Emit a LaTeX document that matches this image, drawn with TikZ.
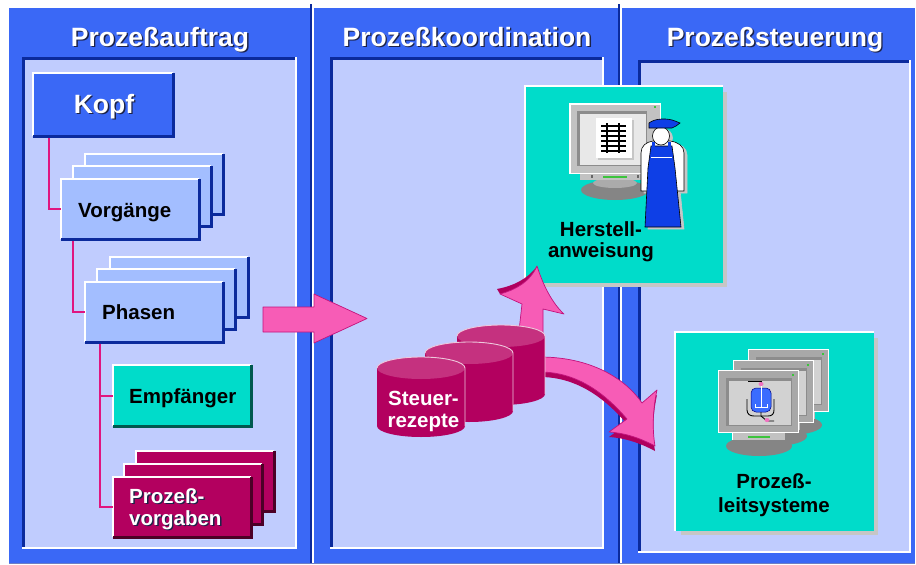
\documentclass[tikz,border=0pt]{standalone}
\usepackage{fontspec}
\setmainfont{Liberation Sans}
\usetikzlibrary{calc}

\definecolor{panelblue}{HTML}{3A68F6}
\definecolor{panellight}{HTML}{C0CCFE}
\definecolor{navy}{HTML}{0B2A9C}
\definecolor{boxblue}{HTML}{A3BEFF}
\definecolor{turq}{HTML}{00DCCA}
\definecolor{turqdark}{HTML}{00594F}
\definecolor{crimson}{HTML}{B3005F}
\definecolor{crimsondark}{HTML}{4C0026}
\definecolor{arrowpink}{HTML}{F75CB6}
\definecolor{arrowedge}{HTML}{C2127C}
\definecolor{arrowshade}{HTML}{B0005E}
\definecolor{linkpink}{HTML}{E0157F}
\definecolor{cyltop}{HTML}{C5317F}
\definecolor{cylrim}{HTML}{EEC8DC}
\definecolor{dropgray}{HTML}{C6C6C6}
\definecolor{textshade}{HTML}{1C2248}
\definecolor{bezel}{HTML}{C2C2C2}
\definecolor{bezeldark}{HTML}{A8A8A8}
\definecolor{screenframe}{HTML}{8C8C8C}
\definecolor{screenface}{HTML}{E8E8E8}
\definecolor{screenface2}{HTML}{D2D2D2}
\definecolor{standgray}{HTML}{858585}
\definecolor{standlight}{HTML}{ABABAB}
\definecolor{ledgreen}{HTML}{3CC43C}
\definecolor{overall}{HTML}{0E3FE6}
\definecolor{vessel}{HTML}{3A6CFF}
\definecolor{valvepink}{HTML}{F070C0}

% white text with a dark drop shadow
\newcommand\shtext[1]{\leavevmode\rlap{\kern1.4pt\raisebox{-1.4pt}{\textcolor{textshade}{#1}}}#1}
% raised box edge: light top/left, dark bottom/right
\newcommand\bevel[2]{%
  \draw[white,line width=2pt] (#1.south west) |- (#1.north east);
  \draw[#2,line width=3pt] (#1.south west) -| (#1.north east);}
% sunken panel: dark top/left, light bottom/right
\newcommand\insetpanel[4]{%
  \fill[panellight] (#1,#2) rectangle (#3,#4);
  \draw[white,line width=2pt] (#1,#4-1) -- (#3-1,#4-1) -- (#3-1,#2);
  \draw[navy,line width=3pt] (#1+1.5,#4-2) -- (#1+1.5,#2+1.5) -- (#3-2,#2+1.5);}
% database drum: centre x, top y
\newcommand\drum[2]{%
  \fill[crimson] (#1-44,#2+11) rectangle (#1+44,#2+69);
  \fill[crimson] (#1,#2+69) ellipse [x radius=44, y radius=11];
  \fill[cyltop] (#1,#2+11) ellipse [x radius=44, y radius=11];
  \draw[cylrim,line width=0.9pt] (#1-44,#2+11) arc [start angle=180, end angle=360, x radius=44, y radius=11] -- (#1+44,#2+69);}
% control-system monitor: top-left corner of the bezel
\newcommand\plsmonitor[2]{%
  \fill[standgray] (#1+41,#2+76) ellipse [x radius=33, y radius=10];
  \fill[bezel] (#1+14,#2+62) rectangle (#1+67,#2+70);
  \draw[white,line width=0.8pt] (#1+14,#2+70) |- (#1+67,#2+62);
  \draw[ledgreen,line width=1.3pt] (#1+30,#2+67) -- (#1+52,#2+67);
  \fill[white] (#1,#2) rectangle (#1+81,#2+63);
  \fill[bezeldark] (#1+1,#2+1) rectangle (#1+80,#2+62);
  \fill[screenframe] (#1+8,#2+8) rectangle (#1+74,#2+56);
  \fill[screenface2] (#1+11,#2+11) rectangle (#1+73,#2+55);
  \fill[ledgreen] (#1+74,#2+4) rectangle (#1+76,#2+6);}
% worker figure
\newcommand\workershape[3]{%
  \filldraw[fill=#1, draw=#3, line width=0.6pt] (641,191) -- (641,153) .. controls (641,146) and (646,142) .. (653,141) -- (670,141) .. controls (678,142) and (684,146) .. (684,153) -- (684,191) -- cycle;
  \filldraw[fill=#1, draw=#3, line width=0.6pt] (661,136) ellipse [x radius=8.5, y radius=9];
  \filldraw[fill=#2, draw=#3, line width=0.6pt] (651,146) -- (672,146) -- (675,168) -- (681,227) -- (645,227) -- (648,168) -- cycle;}

\begin{document}
\begin{tikzpicture}[x=1pt,y=-1pt,
  plain/.style={anchor=north west, inner sep=0pt, outer sep=0pt},
  stackbox/.style={plain, minimum width=138pt, minimum height=60pt},
  title/.style={font=\fontsize{26.5}{30}\selectfont\bfseries, text=white, anchor=base, inner sep=0pt},
  lbl/.style={font=\fontsize{20.5}{24}\selectfont\bfseries, inner sep=0pt, anchor=base west},
  clbl/.style={lbl, anchor=base},
  link/.style={draw=linkpink, line width=2pt},
  bigarrow/.style={fill=arrowpink, draw=arrowedge, line width=0.7pt, line join=round}]

\useasboundingbox (0,0) rectangle (916,565);
\fill[white] (0,0) rectangle (916,565);

% ---- three column panels
\fill[panelblue] (9,8) rectangle (310,563);
\fill[panelblue] (314,8) rectangle (618,563);
\fill[panelblue] (622,8) rectangle (915,563);
\draw[navy,line width=1.6pt] (311,4) -- (311,564);
\draw[navy,line width=1.6pt] (619,4) -- (619,564);
\draw[navy!60,line width=0.8pt] (9,563.5) -- (915,563.5);
\insetpanel{22}{57}{297}{549}
\insetpanel{330}{57}{604}{549}
\insetpanel{638}{60}{911}{553}

\node[title] (hd1) at (160,46) {\shtext{Prozeßauftrag}};
\node[title] (hd2) at (467,46) {\shtext{Prozeßkoordination}};
\node[title] (hd3) at (775,46) {\shtext{Prozeßsteuerung}};

% ---- order structure
\node[plain, fill=panelblue, minimum width=140pt, minimum height=63pt] (kopf) at (33,73) {};
\bevel{kopf}{navy}
\node[title] (kopfT) at (104,113) {\shtext{Kopf}};

\node[stackbox, fill=boxblue] (vorg3) at (85,154) {}; \bevel{vorg3}{navy}
\node[stackbox, fill=boxblue] (vorg2) at (73,166) {}; \bevel{vorg2}{navy}
\node[stackbox, fill=boxblue] (vorg) at (61,179) {};  \bevel{vorg}{navy}
\node[lbl] (vorgT) at (78,217) {Vorgänge};

\node[stackbox, fill=boxblue] (phas3) at (110,257) {}; \bevel{phas3}{navy}
\node[stackbox, fill=boxblue] (phas2) at (97,269) {};  \bevel{phas2}{navy}
\node[stackbox, fill=boxblue] (phas) at (85,282) {};   \bevel{phas}{navy}
\node[lbl] (phasT) at (102,319) {Phasen};

\node[stackbox, fill=turq, minimum height=61pt] (empf) at (113,365) {}; \bevel{empf}{turqdark}
\node[lbl] (empfT) at (129,403) {Empfänger};

\node[stackbox, fill=crimson] (pvor3) at (136,451) {}; \bevel{pvor3}{crimsondark}
\node[stackbox, fill=crimson] (pvor2) at (124,464) {}; \bevel{pvor2}{crimsondark}
\node[stackbox, fill=crimson] (pvor) at (113,477) {};  \bevel{pvor}{crimsondark}
\node[lbl, text=white] (pvorA) at (129,503) {\shtext{Prozeß-}};
\node[lbl, text=white] (pvorB) at (129,525) {\shtext{vorgaben}};

\draw[link] ($(kopf.south west)+(16,1.5)$) |- (vorg.west);
\draw[link] ($(vorg.south west)+(12,1.5)$) |- (phas.west);
\draw[link] ($(phas.south west)+(15,1.5)$) |- (empf.west);
\draw[link] ($(phas.south west)+(15,1.5)$) |- (pvor.west);

% ---- transfer arrow between the first two columns
\filldraw[bigarrow] (263,307) -- (314,307) -- (314,294) -- (367,318.5) -- (314,343) -- (314,332) -- (263,332) -- cycle;

% ---- process instruction card
\fill[dropgray] (530,92) rectangle (727,287);
\node[plain, fill=turq, minimum width=198pt, minimum height=197pt] (herst) at (525,86) {};
\draw[white,line width=2pt] (herst.south west) |- (herst.north east);

\fill[standgray] (615,190) ellipse [x radius=34, y radius=10];
\fill[standlight] (615,183) ellipse [x radius=22, y radius=5];
\fill[bezel] (580,172) rectangle (642,180);
\draw[ledgreen,line width=1.3pt] (603,177) -- (627,177);
\fill[black!60] (591,175) rectangle (593,178);
\fill[black!60] (637,175) rectangle (639,178);
\fill[white] (569,103) rectangle (661,174);
\fill[bezel] (570.5,104.5) rectangle (660,173);
\fill[screenframe] (577,111) rectangle (647,166);
\fill[screenface] (580,114) rectangle (646,165);
\fill[dropgray] (598,120) rectangle (634,160);
\fill[white] (596,118) rectangle (632,158);
\draw[black,line width=1.2pt] (607,123) -- (607,153) (619,123) -- (619,153);
\foreach \yy in {126,131,136,141,146,151}
  \draw[black,line width=1.2pt] (601,\yy) -- (626,\yy);
\fill[ledgreen] (654,106) rectangle (656,108);

\begin{scope}[shift={(3,2)}]
  \workershape{dropgray}{dropgray}{dropgray}
\end{scope}
\workershape{white}{overall}{black}
\draw[white,line width=1pt] (651,157) -- (672,157);
\draw[overall,line width=2.4pt] (653.5,141.8) -- (653.5,147) (669.5,141.8) -- (669.5,147);
\filldraw[fill=overall, draw=black, line width=0.6pt] (649,128) -- (649,123) .. controls (655,118) and (668,118) .. (675,121) -- (680,123) -- (676,126) -- (672,128) -- cycle;

\node[clbl] (herstA) at (601,236) {Herstell-};
\node[clbl] (herstB) at (601,257) {anweisung};

% ---- process control systems card
\fill[dropgray] (681,338) rectangle (878,535);
\node[plain, fill=turq, minimum width=199pt, minimum height=199pt] (pls) at (675,332) {};
\draw[white,line width=2pt] (pls.south west) |- (pls.north east);

\plsmonitor{748}{349}
\plsmonitor{733}{360}
\plsmonitor{718}{370}
% reactor vessel on the front screen
\draw[black,line width=0.9pt] (748,381) -- (761,381) -- (761,388);
\draw[black,line width=0.9pt] (747,399) -- (747,410) .. controls (747,414) and (750,416) .. (754,416) -- (768,416) .. controls (772,416) and (774,414) .. (774,410) -- (774,399);
\filldraw[fill=vessel, draw=blue!50!black, line width=0.5pt, rounded corners=5pt] (751,388) rectangle (771,412);
\draw[white,line width=1pt] (761,384) -- (761,407) (755,404) -- (755,407) -- (767,407) -- (767,404);
\draw[black,line width=0.9pt] (761,412) -- (761,416) -- (767,421) -- (774,421);
\fill[valvepink] (761,384) ellipse [x radius=2.5, y radius=2];
\fill[valvepink] (767,420) ellipse [x radius=2.5, y radius=2];

\node[clbl] (plsA) at (774,488) {Prozeß-};
\node[clbl] (plsB) at (774,512) {leitsysteme};

% ---- curved arrows out of the recipe store
\fill[arrowshade] (500,294) .. controls (515,290) and (530,282) .. (537,266) .. controls (528,279) and (513,286) .. (497,289) -- cycle;
\filldraw[bigarrow] (518,340) -- (522,304) -- (500,294) .. controls (515,290) and (530,282) .. (537,266) .. controls (543,285) and (552,303) .. (564,314) -- (543,309) -- (543,340) -- cycle;

\fill[arrowshade, shift={(0,5)}] (540,357) .. controls (590,357) and (625,378) .. (642,403) -- (657,390) .. controls (653,408) and (652,428) .. (655,446) .. controls (640,438) and (625,433) .. (609,432) -- (627,419) .. controls (608,397) and (580,372) .. (540,372) -- cycle;
\filldraw[bigarrow] (540,357) .. controls (590,357) and (625,378) .. (642,403) -- (657,390) .. controls (653,408) and (652,428) .. (655,446) .. controls (640,438) and (625,433) .. (609,432) -- (627,419) .. controls (608,397) and (580,372) .. (540,372) -- cycle;

% ---- control recipes
\drum{501}{325}
\drum{469}{342}
\drum{421}{357}
\node[clbl, text=white] (rezA) at (423.5,405) {Steuer-};
\node[clbl, text=white] (rezB) at (423.5,427) {rezepte};

\end{tikzpicture}
\end{document}
